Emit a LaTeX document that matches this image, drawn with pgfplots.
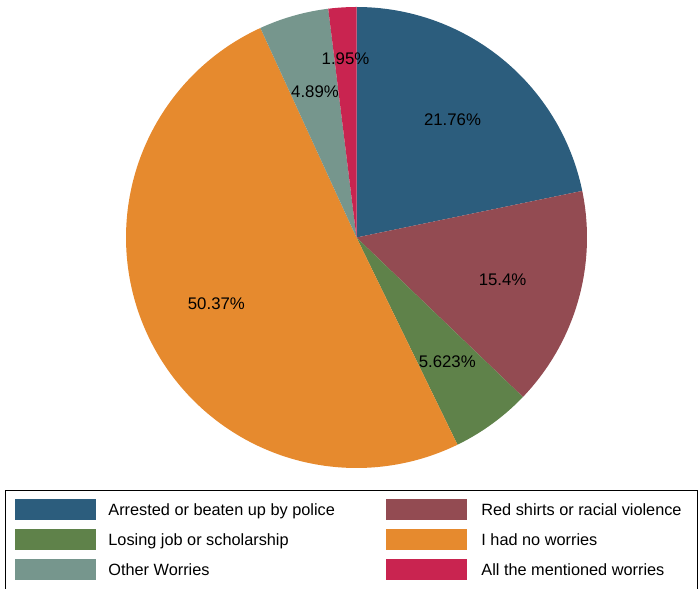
\documentclass[border=0pt]{standalone}
\usepackage{fontspec}
\setmainfont{Liberation Sans}
\usepackage{pgfplots}
\pgfplotsset{compat=1.18}
\definecolor{c1}{RGB}{44,93,125}
\definecolor{c2}{RGB}{147,75,82}
\definecolor{c3}{RGB}{95,130,74}
\definecolor{c4}{RGB}{230,138,46}
\definecolor{c5}{RGB}{118,150,141}
\definecolor{c6}{RGB}{201,36,80}
% shares (percent), clockwise from 12 o'clock
\def\pA{21.76}\def\pB{15.4}\def\pC{5.623}\def\pD{50.37}\def\pE{4.89}\def\pF{1.95}
\def\cx{356.5}\def\cy{351.5}\def\R{230.5}
\begin{document}
\begin{tikzpicture}
\pgfmathsetmacro{\aO}{90}
\pgfmathsetmacro{\aA}{\aO-3.6*\pA}
\pgfmathsetmacro{\aB}{\aA-3.6*\pB}
\pgfmathsetmacro{\aC}{\aB-3.6*\pC}
\pgfmathsetmacro{\aD}{\aC-3.6*\pD}
\pgfmathsetmacro{\aE}{\aD-3.6*\pE}
\pgfmathsetmacro{\aF}{-270}
\begin{axis}[
  scale only axis, width=698bp, height=589bp,
  xmin=0, xmax=698, ymin=0, ymax=589, enlargelimits=false,
  hide axis,
  legend columns=2,
  legend image code/.code={\fill[#1] (0bp,-10.5bp) rectangle (81bp,10.5bp);},
  legend style={at={(axis description cs:0.00716,0.1681)}, anchor=north west,
    draw=black, line width=0.8bp, inner xsep=10bp, inner ysep=9bp,
    column sep=0pt, row sep=9bp,
    nodes={inner sep=0pt, anchor=west},
    font=\fontsize{16.3bp}{18bp}\selectfont},
]
\addplot[fill=c1, draw=none, domain=\aA:\aO, samples=80, variable=\t] ({\cx+\R*cos(\t)},{\cy+\R*sin(\t)}) -- (axis cs:\cx,\cy) -- cycle;
\addlegendentry{\hspace*{12bp}\makebox[278bp][l]{Arrested or beaten up by police}}
\addplot[fill=c2, draw=none, domain=\aB:\aA, samples=60, variable=\t] ({\cx+\R*cos(\t)},{\cy+\R*sin(\t)}) -- (axis cs:\cx,\cy) -- cycle;
\addlegendentry{\hspace*{14bp}\makebox[206bp][l]{Red shirts or racial violence}}
\addplot[fill=c3, draw=none, domain=\aC:\aB, samples=30, variable=\t] ({\cx+\R*cos(\t)},{\cy+\R*sin(\t)}) -- (axis cs:\cx,\cy) -- cycle;
\addlegendentry{\hspace*{12bp}\makebox[278bp][l]{Losing job or scholarship}}
\addplot[fill=c4, draw=none, domain=\aD:\aC, samples=150, variable=\t] ({\cx+\R*cos(\t)},{\cy+\R*sin(\t)}) -- (axis cs:\cx,\cy) -- cycle;
\addlegendentry{\hspace*{14bp}\makebox[206bp][l]{I had no worries}}
\addplot[fill=c5, draw=none, domain=\aE:\aD, samples=30, variable=\t] ({\cx+\R*cos(\t)},{\cy+\R*sin(\t)}) -- (axis cs:\cx,\cy) -- cycle;
\addlegendentry{\hspace*{12bp}\makebox[278bp][l]{Other Worries}}
\addplot[fill=c6, draw=none, domain=\aF:\aE, samples=20, variable=\t] ({\cx+\R*cos(\t)},{\cy+\R*sin(\t)}) -- (axis cs:\cx,\cy) -- cycle;
\addlegendentry{\hspace*{14bp}\makebox[206bp][l]{All the mentioned worries}}
\pgfmathsetmacro{\mA}{(\aO+\aA)/2}
\pgfmathsetmacro{\mB}{(\aA+\aB)/2}
\pgfmathsetmacro{\mC}{(\aB+\aC)/2}
\pgfmathsetmacro{\mD}{(\aC+\aD)/2}
\pgfmathsetmacro{\mE}{(\aD+\aE)/2}
\pgfmathsetmacro{\mF}{(\aE+\aF)/2}
\begin{scope}[every node/.style={font=\fontsize{16.8bp}{18bp}\selectfont, inner sep=0pt}]
\node at (axis cs:{\cx+152*cos(\mA)},{\cy+152*sin(\mA)}) {21.76\%};
\node at (axis cs:{\cx+152*cos(\mB)},{\cy+152*sin(\mB)}) {15.4\%};
\node at (axis cs:{\cx+154*cos(\mC)},{\cy+154*sin(\mC)}) {5.623\%};
\node at (axis cs:{\cx+155*cos(\mD)},{\cy+155*sin(\mD)}) {50.37\%};
\node at (axis cs:{\cx+152*cos(\mE)},{\cy+152*sin(\mE)}) {4.89\%};
\node at (axis cs:{\cx+179*cos(\mF)},{\cy+179*sin(\mF)}) {1.95\%};
\end{scope}
\end{axis}
\pgfresetboundingbox
\path (0,0) rectangle (698bp,589bp);
\end{tikzpicture}
\end{document}
